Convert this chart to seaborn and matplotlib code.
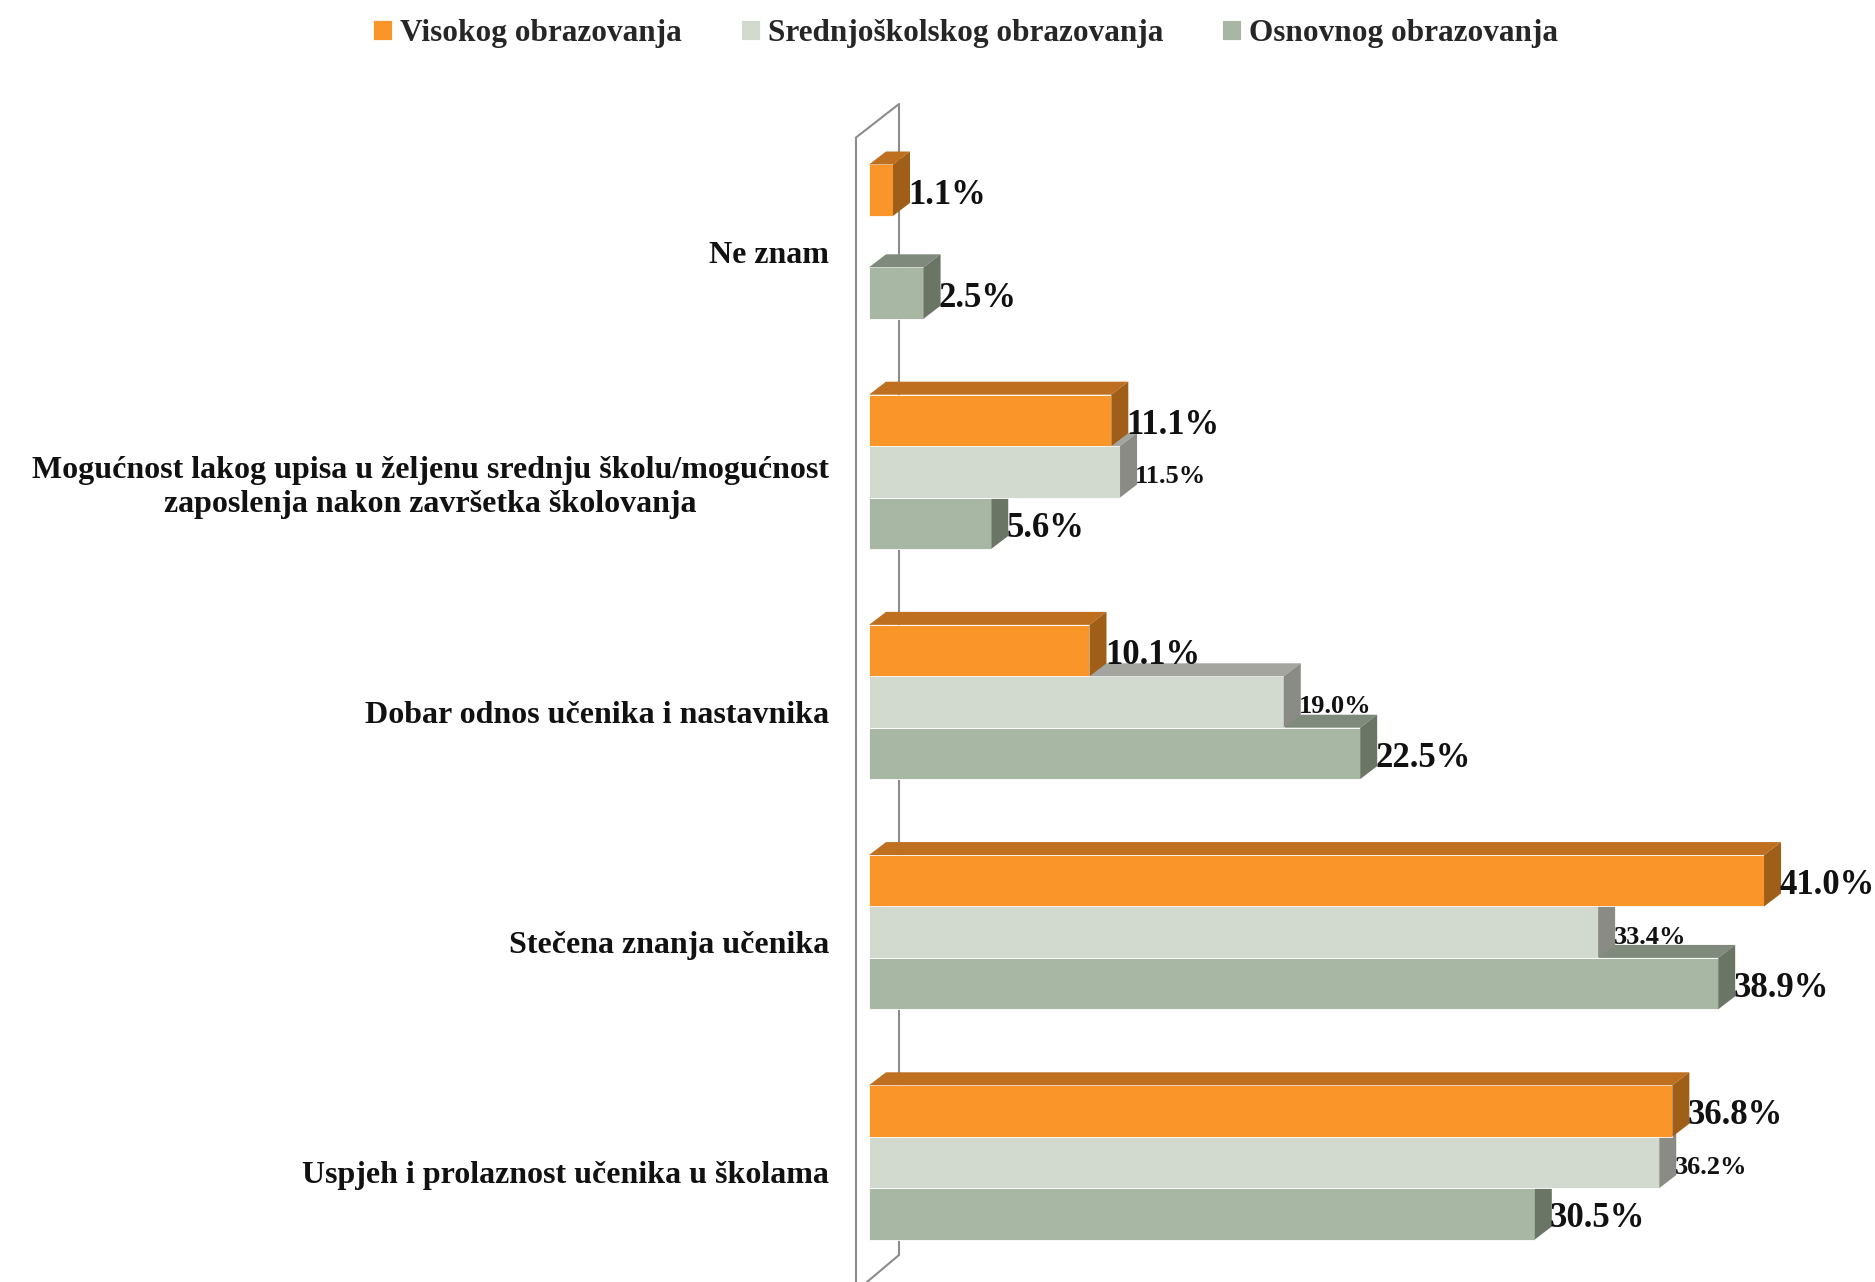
import numpy as np
import pandas as pd
import seaborn as sns
import matplotlib.pyplot as plt
from matplotlib.patches import Polygon
from matplotlib.transforms import ScaledTranslation

# Podaci
kategorije = [
    "Ne znam",
    "Mogućnost lakog upisa u željenu srednju školu/mogućnost\nzaposlenja nakon završetka školovanja",
    "Dobar odnos učenika i nastavnika",
    "Stečena znanja učenika",
    "Uspjeh i prolaznost učenika u školama",
]
serije = ["Visokog obrazovanja", "Srednjoškolskog obrazovanja", "Osnovnog obrazovanja"]
visoko = [1.1, 11.1, 10.1, 41.0, 36.8]
srednje = [np.nan, 11.5, 19.0, 33.4, 36.2]
osnovno = [2.5, 5.6, 22.5, 38.9, 30.5]

front = ["#F99529", "#D2DAD0", "#A8B7A3"]
top = ["#BE7020", "#A3A59E", "#808A7C"]
side = ["#A05F18", "#898B84", "#6B7565"]

df = pd.DataFrame({
    "kategorija": kategorije * 3,
    "serija": np.repeat(serije, len(kategorije)),
    "vrijednost": visoko + srednje + osnovno,
})

sns.set_style("white")
plt.rcParams["font.family"] = ["Liberation Serif", "DejaVu Serif"]
plt.rcParams["font.weight"] = "bold"

fig = plt.figure(figsize=(18.75, 12.82), dpi=100)
ax = fig.add_axes([840 / 1875, 0, 1 - 840 / 1875, 1 - 100 / 1282])

sns.barplot(data=df, y="kategorija", x="vrijednost", hue="serija",
            hue_order=serije, order=kategorije, palette=front,
            width=0.67, orient="h", ax=ax, legend=True,
            edgecolor="white", linewidth=0.6, saturation=1)

px_x = 21.83
px_y = 230.2
ax.set_xlim(-(869 - 840) / px_x, (1875 - 869) / px_x)
ax.set_ylim(4 + (1282 - 1162.4) / px_y, -(241.6 - 100) / px_y)

dx = 17 / px_x
dy = 13 / px_y

# 3D efekt: gornja i bočna strana stupaca
for i, cont in enumerate(ax.containers):
    z = 5 - i
    for p in cont.patches:
        x, y, w, h = p.get_x(), p.get_y(), p.get_width(), p.get_height()
        if np.isnan(w):
            continue
        p.set_zorder(z)
        ax.add_patch(Polygon([(x, y), (x + w, y), (x + w + dx, y - dy), (x + dx, y - dy)],
                             closed=True, facecolor=top[i], edgecolor="none", zorder=z))
        ax.add_patch(Polygon([(x + w, y), (x + w + dx, y - dy), (x + w + dx, y + h - dy), (x + w, y + h)],
                             closed=True, facecolor=side[i], edgecolor="none", zorder=z))
    size = 19 if i == 1 else 25
    txts = ax.bar_label(cont, labels=[f"{v:.1f}%" if not np.isnan(v) else "" for v in cont.datavalues],
                        padding=11, fontsize=size, fontweight="bold", color="#111111", zorder=6)
    for t in txts:
        t.xyann = (t.xyann[0], t.xyann[1] - 3.6)

# zid (3D)
wall = "#8C8C8C"
xf, xb = -13 / px_x, 30 / px_x
yt_b, yt_f = (104 - 241.6) / px_y, (137.5 - 241.6) / px_y
ybot = (1282 - 241.6) / px_y
yb_b = (1255 - 241.6) / px_y
ax.plot([xf, xf, xb, xb, -2 / px_x], [ybot, yt_f, yt_b, yb_b, ybot],
        color=wall, lw=1.5, zorder=1, clip_on=False)

sns.despine(ax=ax, left=True, bottom=True)
ax.set_xticks([])
ax.set_xlabel("")
ax.set_ylabel("")
ax.tick_params(axis="y", length=0, pad=8, labelsize=23)
off = ScaledTranslation(0, -0.1, fig.dpi_scale_trans)
for lab in ax.get_yticklabels():
    lab.set_multialignment("center")
    lab.set_fontweight("bold")
    lab.set_color("#111111")
    lab.set_transform(lab.get_transform() + off)

handles, labels = ax.get_legend_handles_labels()
ax.legend_.remove()
fig.legend(handles, labels, loc="center", bbox_to_anchor=(0.515, 0.974), ncol=3,
           frameon=False, handlelength=0.6, handleheight=0.6,
           handletextpad=0.25, columnspacing=1.9, prop={"weight": "bold", "size": 22.5})

fig.savefig("out.png", dpi=100)
